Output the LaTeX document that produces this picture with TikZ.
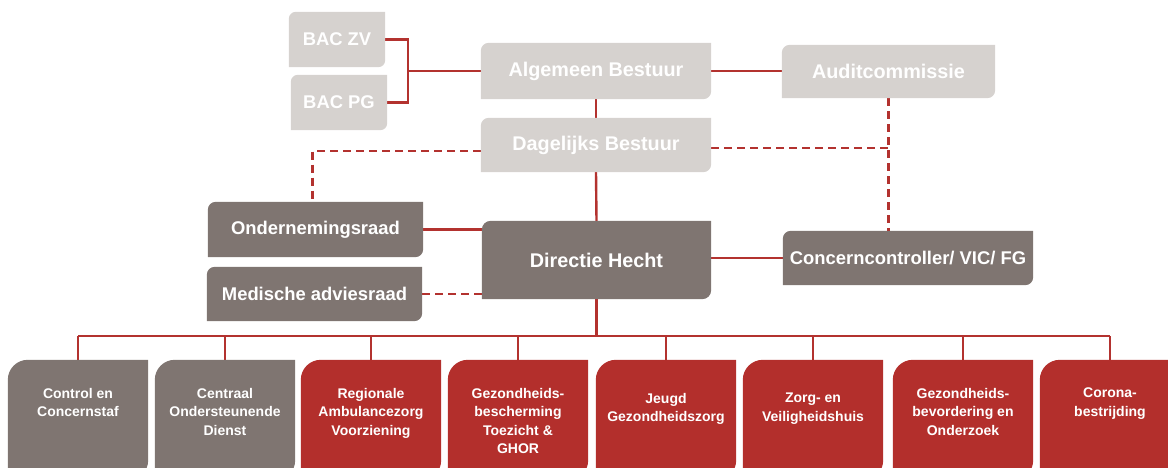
\documentclass[tikz,border=0pt]{standalone}
\usepackage{fontspec}
\setmainfont{Liberation Sans}
\usetikzlibrary{backgrounds}
\definecolor{lgrey}{HTML}{D6D2CF}
\definecolor{dgrey}{HTML}{7F7571}
\definecolor{hred}{HTML}{B32F2C}
\definecolor{lred}{HTML}{B3322F}
\newcommand\shapefill[3]{%
  \fill[#3] (#1.south west) -- ([yshift=-#2pt]#1.north west) .. controls ([yshift=-0.448*#2pt]#1.north west) and ([xshift=0.448*#2pt]#1.north west) .. ([xshift=#2pt]#1.north west) -- (#1.north east) -- ([yshift=#2pt]#1.south east) .. controls ([yshift=0.448*#2pt]#1.south east) and ([xshift=-0.448*#2pt]#1.south east) .. ([xshift=-#2pt]#1.south east) -- cycle;}
\begin{document}
\begin{tikzpicture}[x=1pt,y=-1pt,
  box/.style={inner sep=0pt, text=white, font=\bfseries\fontsize{18.4}{21}\selectfont, align=center},
  bigbox/.style={box, font=\bfseries\fontsize{19.8}{22}\selectfont},
  ln/.style={draw=lred, line width=2.4pt},
  dsh/.style={ln, dash pattern=on 8pt off 5pt},
  bot/.style={inner sep=0pt, minimum width=140pt, minimum height=120pt},
  btxt/.style={text=white, font=\bfseries\fontsize{14}{18.5}\selectfont, align=center, anchor=north, inner sep=0pt}]
\useasboundingbox (0,0) rectangle (1168,467);
\clip (0,0) rectangle (1168,467);

% top nodes
\node[box, minimum width=96pt, minimum height=55pt] (bacz) at (337,39.5) {BAC ZV};
\node[box, minimum width=96pt, minimum height=55pt] (bacp) at (339,102.5) {BAC PG};
\node[bigbox, minimum width=230pt, minimum height=56pt] (alg) at (596,71) {Algemeen Bestuur};
\node[bigbox, minimum width=230pt, minimum height=54pt] (dag) at (596,145) {Dagelijks Bestuur};
\node[bigbox, minimum width=213pt, minimum height=53pt] (aud) at (888.5,71.5) {Auditcommissie};
\node[box, minimum width=215pt, minimum height=55pt] (onr) at (315.5,229.5) {Ondernemingsraad};
\node[box, minimum width=215pt, minimum height=54pt] (med) at (314.5,294) {Medische adviesraad};
\node[bigbox, minimum width=229pt, minimum height=78pt] (dir) at (596.5,260) {Directie Hecht};
\node[box, minimum width=250pt, minimum height=54pt] (cc) at (908,258) {Concerncontroller/ VIC/ FG};

% bottom boxes
\node[bot] (b1) at (78,420) {};
\node[bot] (b2) at (225,420) {};
\node[bot] (b3) at (371,420) {};
\node[bot] (b4) at (518,420) {};
\node[bot] (b5) at (666,420) {};
\node[bot] (b6) at (813,420) {};
\node[bot] (b7) at (963,420) {};
\node[bot] (b8) at (1110,420) {};

\node[btxt] (t1) at ([yshift=-28pt]b1.north) {Control en\\Concernstaf};
\node[btxt] (t2) at ([yshift=-28pt]b2.north) {Centraal\\Ondersteunende\\Dienst};
\node[btxt] (t3) at ([yshift=-28pt]b3.north) {Regionale\\Ambulancezorg\\Voorziening};
\node[btxt] (t4) at ([yshift=-28pt]b4.north) {Gezondheids-\\bescherming\\Toezicht \&\\GHOR};
\node[btxt] (t5) at ([yshift=-33pt]b5.north) {Jeugd\\Gezondheidszorg};
\node[btxt] (t6) at ([yshift=-33pt]b6.north) {Zorg- en\\Veiligheidshuis};
\node[btxt] (t7) at ([yshift=-28pt]b7.north) {Gezondheids-\\bevordering en\\Onderzoek};
\node[btxt] (t8) at ([yshift=-28pt]b8.north) {Corona-\\bestrijding};

\coordinate (j1) at (408,71);
\coordinate (bus) at (596.5,336);

\begin{scope}[on background layer]
  % connectors
  \draw[ln] (bacz.east) -| (j1) |- (bacp.east);
  \draw[ln] (j1) -- (alg.west);
  \draw[ln] (alg.east) -- (alg.east -| aud.west);
  \draw[ln] (alg.south) -- (dag.north);
  \draw[ln] (dag.south) -- (dir.north);
  \draw[dsh] ([yshift=-3pt]dag.east) -- ([yshift=-3pt]dag.east -| aud.south);
  \draw[dsh] (aud.south) -- (aud.south |- cc.north);
  \draw[dsh] ([yshift=-6pt]dag.west) -| ([xshift=-3pt]onr.north);
  \draw[ln] (onr.east) -- (onr.east -| dir.west);
  \draw[dsh] (med.east) -- (med.east -| dir.west);
  \draw[ln] (cc.west -| dir.east) -- (cc.west);
  \draw[ln] (dir.south) -- (bus);
  \draw[ln] (b1.north |- bus) -- (b8.north |- bus);
  \foreach \b in {b1,b2,b3,b4,b5,b6,b7,b8} \draw[ln] (\b.north |- bus) -- (\b.north);
  % fills
  \shapefill{bacz}{7}{lgrey}
  \shapefill{bacp}{7}{lgrey}
  \shapefill{alg}{8}{lgrey}
  \shapefill{dag}{8}{lgrey}
  \shapefill{aud}{8}{lgrey}
  \shapefill{onr}{8}{dgrey}
  \shapefill{med}{8}{dgrey}
  \shapefill{dir}{9}{dgrey}
  \shapefill{cc}{8}{dgrey}
  \shapefill{b1}{20}{dgrey}
  \shapefill{b2}{20}{dgrey}
  \shapefill{b3}{20}{hred}
  \shapefill{b4}{20}{hred}
  \shapefill{b5}{20}{hred}
  \shapefill{b6}{20}{hred}
  \shapefill{b7}{20}{hred}
  \shapefill{b8}{20}{hred}
\end{scope}
\end{tikzpicture}
\end{document}
